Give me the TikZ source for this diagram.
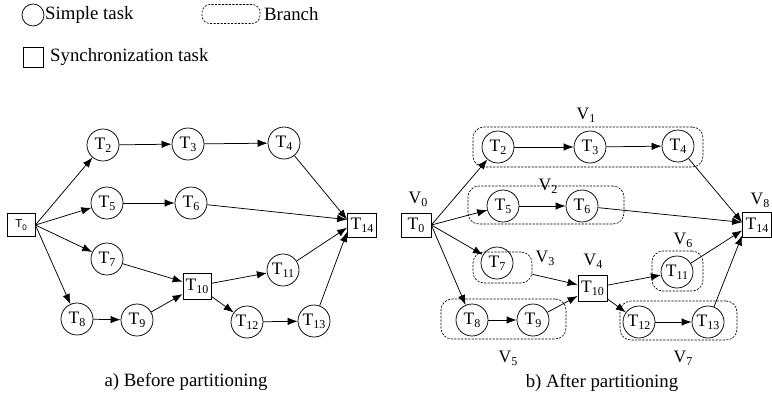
\documentclass[tikz,border=0pt]{standalone}
\usepackage{fontspec}
\setmainfont{Liberation Serif}
\newfontfamily\sansT{Liberation Sans}
\usetikzlibrary{arrows.meta,calc}
\newcommand{\Tn}[1]{T\raisebox{-0.18em}{\fontsize{12}{12}\selectfont #1}}
\newcommand{\Vn}[1]{V\raisebox{-0.18em}{\fontsize{12}{12}\selectfont #1}}
\begin{document}
\begin{tikzpicture}[x=1pt,y=-1pt,
  every node/.style={font=\fontsize{17.5}{18}\selectfont},
  simple/.style={draw,circle,minimum size=32pt,inner sep=0pt,line width=0.75pt},
  sync/.style={draw,rectangle,minimum width=29pt,minimum height=25pt,inner sep=0pt,line width=0.75pt},
  branch/.style={draw,rectangle,dash pattern=on 2.2pt off 1.3pt,rounded corners=11pt,line width=0.65pt,inner sep=0pt},
  lbl/.style={inner sep=0pt},
  arr/.style={-{Latex[length=10pt,width=7.5pt]},line width=0.75pt},
  captxt/.style={font=\fontsize{18.8}{20}\selectfont,inner sep=0pt}]
\useasboundingbox (0,0) rectangle (772,397);
% legend
\node[draw,circle,minimum size=22pt,inner sep=0pt,line width=0.75pt] (lc) at (33,15) {};
\node[captxt,anchor=west] (lct) at (45,15) {Simple task};
\node[draw,rectangle,dash pattern=on 2.2pt off 1.3pt,rounded corners=8pt,line width=0.65pt,minimum width=58pt,minimum height=19pt,inner sep=0pt] (lb) at (231,14) {};
\node[captxt,anchor=west] (lbt) at (264,14) {Branch};
\node[draw,rectangle,minimum size=20pt,inner sep=0pt,line width=0.75pt] (ls) at (33,57) {};
\node[captxt,anchor=west] (lst) at (50,57) {Synchronization task};

% ---------- left diagram ----------
\node[sync,minimum width=28pt,minimum height=23pt,font=\sansT\fontsize{11.5}{12}\selectfont] (a0) at (21,225) {T\raisebox{-0.2em}{\fontsize{8}{8}\selectfont 0}};
\node[simple] (a2) at (103,145) {\Tn{2}};
\node[simple] (a3) at (188,144) {\Tn{3}};
\node[simple] (a4) at (284,143) {\Tn{4}};
\node[simple] (a5) at (107,203) {\Tn{5}};
\node[simple] (a6) at (191,203) {\Tn{6}};
\node[simple] (a7) at (107,259) {\Tn{7}};
\node[sync,minimum width=28pt,minimum height=26pt] (a10) at (197,286) {\Tn{10}};
\node[simple] (a11) at (283,270) {\Tn{11}};
\node[simple] (a8) at (77,319) {\Tn{8}};
\node[simple] (a9) at (137,320) {\Tn{9}};
\node[simple] (a12) at (247,322) {\Tn{12}};
\node[simple] (a13) at (314,321) {\Tn{13}};
\node[sync,minimum height=24pt] (a14) at (362,225) {\Tn{14}};

\draw[arr] (a0.east) -- (a2);
\draw[arr] (a0.east) -- (a5);
\draw[arr] (a0.east) -- (a7);
\draw[arr] (a0.east) -- (a8);
\draw[arr] (a2) -- (a3);
\draw[arr] (a3) -- (a4);
\draw[arr] (a5) -- (a6);
\draw[arr] (a8) -- (a9);
\draw[arr] (a7) -- (a10);
\draw[arr] (a9) -- (a10);
\draw[arr] (a10) -- (a11);
\draw[arr] (a10) -- (a12);
\draw[arr] (a12) -- (a13);
\draw[arr] (a4) -- (a14.160);
\draw[arr] (a6) -- (a14.160);
\draw[arr] (a11) -- (a14.190);
\draw[arr] (a13) -- (a14.205);
\node[captxt] (capa) at (186,382) {a) Before partitioning};

% ---------- right diagram ----------
\node[branch,minimum width=230pt,minimum height=40pt] (V1) at (588,147) {};
\node[branch,minimum width=156pt,minimum height=38pt] (V2) at (546,205) {};
\node[branch,minimum width=59pt,minimum height=31pt] (V3) at (502.5,267.5) {};
\node[branch,minimum width=125pt,minimum height=40pt] (V5) at (503.5,319) {};
\node[branch,minimum width=51pt,minimum height=40pt] (V6) at (677.5,271) {};
\node[branch,minimum width=117pt,minimum height=39pt] (V7) at (678.5,320.5) {};

\node[sync,minimum width=30pt,minimum height=24pt] (b0) at (416,225) {\Tn{0}};
\node[simple] (b2) at (498,147) {\Tn{2}};
\node[simple] (b3) at (590,147) {\Tn{3}};
\node[simple] (b4) at (678,146) {\Tn{4}};
\node[simple] (b5) at (503,206) {\Tn{5}};
\node[simple] (b6) at (582,206) {\Tn{6}};
\node[simple] (b7) at (497,263) {\Tn{7}};
\node[sync,minimum height=26pt] (b10) at (592.5,288) {\Tn{10}};
\node[simple] (b11) at (677,272) {\Tn{11}};
\node[simple] (b8) at (472,320) {\Tn{8}};
\node[simple] (b9) at (533,320) {\Tn{9}};
\node[simple] (b12) at (639,322) {\Tn{12}};
\node[simple] (b13) at (708,322) {\Tn{13}};
\node[sync] (b14) at (757,225) {\Tn{14}};

\node[lbl] (l0) at (418,199) {\Vn{0}};
\node[lbl] (l1) at (586,115) {\Vn{1}};
\node[lbl] (l2) at (548,186) {\Vn{2}};
\node[lbl] (l3) at (545,258) {\Vn{3}};
\node[lbl] (l4) at (593,261) {\Vn{4}};
\node[lbl] (l5) at (508,358) {\Vn{5}};
\node[lbl] (l6) at (683,240) {\Vn{6}};
\node[lbl] (l7) at (683,358) {\Vn{7}};
\node[lbl] (l8) at (760,200) {\Vn{8}};

\draw[arr] (b0.east) -- (b2);
\draw[arr] (b0.east) -- (b5);
\draw[arr] (b0.east) -- (b7);
\draw[arr] (b0.east) -- (b8);
\draw[arr] (b2) -- (b3);
\draw[arr] (b3) -- (b4);
\draw[arr] (b5) -- (b6);
\draw[arr] (b8) -- (b9);
\draw[arr] (V3) -- (b10);
\draw[arr] (b9) -- (b10);
\draw[arr] (b10) -- (b11);
\draw[arr] (b10) -- (b12);
\draw[arr] (b12) -- (b13);
\draw[arr] (b4) -- (b14.170);
\draw[arr] (b6) -- (b14.170);
\draw[arr] (b11) -- (b14.200);
\draw[arr] (b13) -- (b14.215);
\node[captxt] (capb) at (602,383) {b) After partitioning};
\end{tikzpicture}
\end{document}
